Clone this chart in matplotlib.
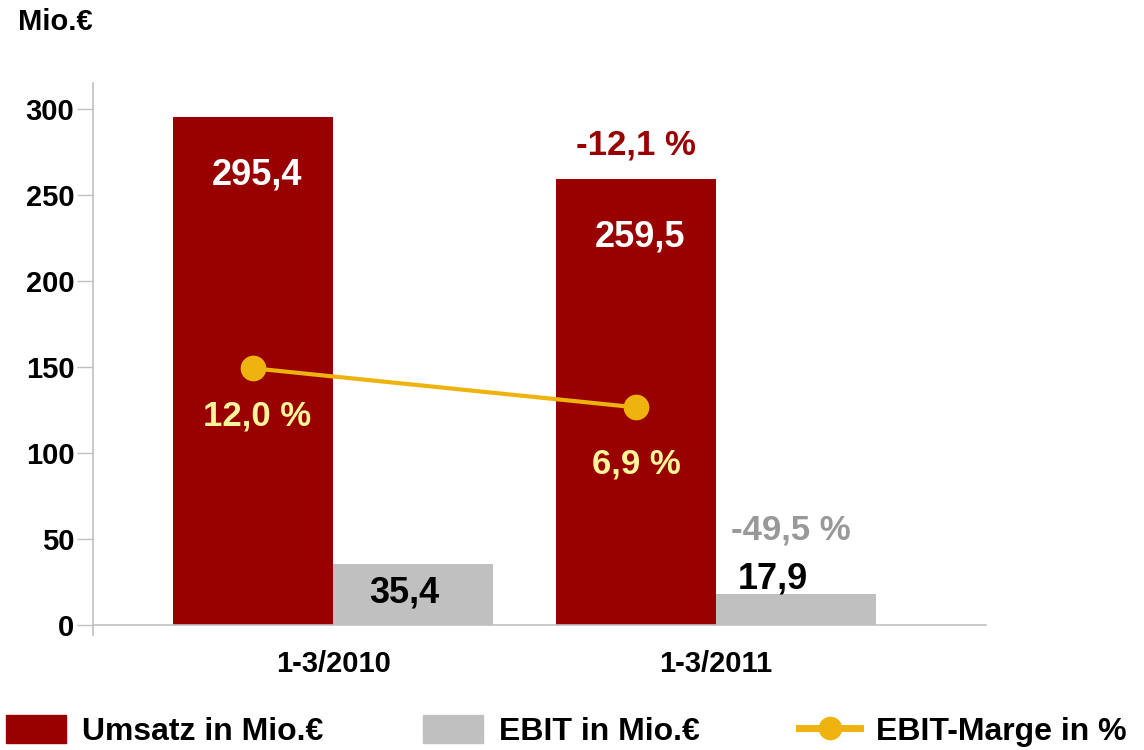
import numpy as np
import matplotlib.pyplot as plt
from matplotlib.patches import Patch
from matplotlib.lines import Line2D

plt.rcParams['font.family'] = ['Liberation Sans', 'DejaVu Sans']
plt.rcParams['font.weight'] = 'bold'

# data
periods = ['1-3/2010', '1-3/2011']
umsatz = [295.4, 259.5]       # Mio. EUR
ebit = [35.4, 17.9]           # Mio. EUR
marge = [12.0, 6.9]           # EBIT-Marge in %
umsatz_change = -12.1         # % vs previous year
ebit_change = -49.5           # % vs previous year
yticks = [0, 50, 100, 150, 200, 250, 300]

RED = '#990000'
GRAY = '#C0C0C0'
GOLD = '#EFB30F'
PALE = '#FFF59A'
AXIS = '#C0C0C0'


def de(v, pct=False):
    s = f"{v:.1f}".replace('.', ',')
    return s + ' %' if pct else s


fig = plt.figure(figsize=(11.44, 7.5), dpi=100)
ax = fig.add_axes([0.0813, 0.1529, 0.7806, 0.7364])

x = np.arange(len(periods))
w = 0.418
ax.bar(x - w / 2, umsatz, w, color=RED, zorder=2)
ax.bar(x + w / 2, ebit, w, color=GRAY, zorder=2)

ax.set_xlim(-0.627, 1.705)
ax.set_ylim(-6, 315)
ax.set_yticks(yticks)
ax.set_yticklabels([str(t) for t in yticks])
ax.tick_params(axis='y', length=11.5, width=1, color=AXIS, pad=2, labelsize=21)
for s in ['top', 'right']:
    ax.spines[s].set_visible(False)
ax.spines['bottom'].set_position(('data', 0))
ax.spines['left'].set_color(AXIS)
ax.spines['bottom'].set_color(AXIS)
ax.spines['left'].set_linewidth(1.2)
ax.spines['bottom'].set_linewidth(1.2)

# value labels
for i in range(len(periods)):
    ax.annotate(de(umsatz[i]), (x[i] - w / 2, umsatz[i]), xytext=(3, -42),
                textcoords='offset points', ha='center', va='center',
                color='white', fontsize=26, fontweight='bold', zorder=4)

ax.annotate(de(ebit[0]), (x[0] + w / 2, ebit[0]), xytext=(-6, -21),
            textcoords='offset points', ha='center', va='center',
            color='black', fontsize=26, fontweight='bold', zorder=4)
ax.annotate(de(ebit[1]), (x[1] + w / 2, ebit[1]), xytext=(-17, 11),
            textcoords='offset points', ha='center', va='center',
            color='black', fontsize=26, fontweight='bold', zorder=4)

ax.annotate(de(umsatz_change, True), (x[1] - w / 2, umsatz[1]), xytext=(0, 24),
            textcoords='offset points', ha='center', va='center',
            color=RED, fontsize=25, fontweight='bold', zorder=4)
ax.annotate(de(ebit_change, True), (x[1] + w / 2, ebit[1]), xytext=(-4, 46),
            textcoords='offset points', ha='center', va='center',
            color='#999999', fontsize=25, fontweight='bold', zorder=4)

# margin line on hidden secondary axis
ax2 = ax.twinx()
ax2.set_ylim(-22.87, 49.25)
ax2.axis('off')
ax2.plot(x - w / 2, marge, color=GOLD, lw=3, marker='o', ms=17.5, zorder=3)
offsets = [(3, -34), (0, -41)]
for i in range(len(periods)):
    ax2.annotate(de(marge[i], True), (x[i] - w / 2, marge[i]), xytext=offsets[i],
                 textcoords='offset points', ha='center', va='center',
                 color=PALE, fontsize=25, fontweight='bold', zorder=4)

# category labels (set after twinx so they keep their size)
ax.set_xticks(x)
ax.set_xticklabels(periods)
ax.tick_params(axis='x', length=0, pad=18, labelsize=21)

fig.text(18 / 1144, 1 - 22 / 750, 'Mio.€', ha='left', va='center',
         fontsize=21, fontweight='bold')

handles = [Patch(color=RED), Patch(color=GRAY),
           Line2D([], [], color=GOLD, lw=5, marker='o', ms=16)]
labels = ['Umsatz in Mio.€', 'EBIT in Mio.€', 'EBIT-Marge in %']
fig.legend(handles, labels, loc='lower left', bbox_to_anchor=(0.005, 0.004),
           ncol=3, frameon=False, handlelength=1.9,
           handleheight=0.95, handletextpad=0.5, columnspacing=3.1,
           borderaxespad=0, borderpad=0, prop={'weight': 'bold', 'size': 23})

fig.savefig('out.png', dpi=100)
